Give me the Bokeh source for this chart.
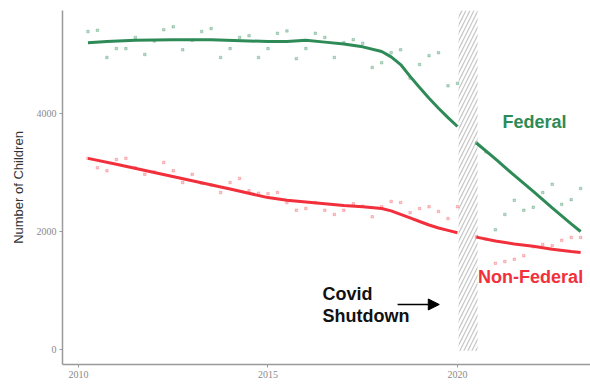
from bokeh.plotting import figure
from bokeh.models import FixedTicker, Arrow, NormalHead, Label
from bokeh.embed import file_html
from bokeh.resources import INLINE

GREEN = "#2E8B57"
RED = "#F2303C"

# quarterly observations
t_pre = [2010.25, 2010.5, 2010.75, 2011.0, 2011.25, 2011.5, 2011.75, 2012.0,
         2012.25, 2012.5, 2012.75, 2013.0, 2013.25, 2013.5, 2013.75, 2014.0,
         2014.25, 2014.5, 2014.75, 2015.0, 2015.25, 2015.5, 2015.75, 2016.0,
         2016.25, 2016.5, 2016.75, 2017.0, 2017.25, 2017.5, 2017.75, 2018.0,
         2018.25, 2018.5, 2018.75, 2019.0, 2019.25, 2019.5, 2019.75, 2020.0]
fed_pre = [5390, 5410, 4950, 5100, 5100, 5290, 5000, 5230,
           5420, 5470, 5080, 5240, 5390, 5440, 4950, 5100,
           5290, 5320, 4950, 5100, 5360, 5400, 4930, 5100,
           5360, 5290, 4950, 5200, 5250, 5190, 4780, 4860,
           5030, 5080, 4600, 4830, 4980, 5030, 4470, 4510]
non_pre = [3240, 3080, 3030, 3220, 3240, 3080, 2970, 3010,
           3170, 3030, 2830, 2970, 2820, 2790, 2660, 2830,
           2900, 2690, 2650, 2640, 2660, 2490, 2360, 2390,
           2490, 2360, 2290, 2360, 2470, 2430, 2250, 2420,
           2510, 2490, 2320, 2390, 2420, 2340, 2220, 2420]

t_post = [2020.5, 2020.75, 2021.0, 2021.25, 2021.5, 2021.75, 2022.0, 2022.25,
          2022.5, 2022.75, 2023.0, 2023.25]
fed_post = [3500, 3350, 2030, 2290, 2530, 2360, 2410, 2660, 2800, 2460, 2540, 2730]
non_post = [1910, 1870, 1460, 1490, 1530, 1590, 1740, 1780, 1760, 1850, 1900, 1900]

# smoothed trends
ts_fed_pre = [2010.25, 2010.75, 2011.5, 2012.5, 2013.5, 2014.5, 2015.0, 2015.5,
              2016.0, 2016.5, 2017.0, 2017.5, 2018.0, 2018.25, 2018.5, 2018.75,
              2019.0, 2019.25, 2019.5, 2019.75, 2020.0]
fed_trend_pre = [5200, 5220, 5240, 5250, 5250, 5230, 5220, 5220,
                 5240, 5210, 5180, 5130, 5050, 4960, 4830, 4630,
                 4440, 4260, 4090, 3930, 3780]
ts_fed_post = [2020.5, 2021.0, 2021.5, 2022.0, 2022.5, 2023.0, 2023.25]
fed_trend_post = [3500, 3230, 2950, 2680, 2400, 2130, 2000]

ts_non_pre = [2010.25, 2011.0, 2012.0, 2013.0, 2014.0, 2015.0, 2015.5, 2016.0,
              2016.5, 2017.0, 2017.5, 2018.0, 2018.25, 2018.5, 2018.75, 2019.0,
              2019.25, 2019.5, 2019.75, 2020.0]
non_trend_pre = [3240, 3140, 3000, 2860, 2720, 2575, 2530, 2500,
                 2470, 2440, 2420, 2390, 2350, 2290, 2230, 2170,
                 2110, 2060, 2020, 1980]
ts_non_post = [2020.5, 2021.0, 2021.5, 2022.0, 2022.5, 2023.0, 2023.25]
non_trend_post = [1905, 1840, 1790, 1750, 1700, 1660, 1645]

covid_start, covid_end = 2020.03, 2020.53
x_ticks = [2010, 2015, 2020]
y_ticks = [0, 2000, 4000]

p = figure(width=590, height=386, output_backend="svg", toolbar_location=None,
           x_range=(2009.578, 2023.51), y_range=(-254, 5746),
           min_border_left=62, min_border_right=0, min_border_top=10, min_border_bottom=22)
p.outline_line_color = None
p.xgrid.visible = False
p.ygrid.visible = False

# covid band
p.quad(left=[covid_start], right=[covid_end], bottom=[-20], top=[5746],
       fill_color=None, line_color=None, hatch_pattern="/", hatch_color="#c4c4c4",
       hatch_scale=8, hatch_weight=1.2)

# points
p.scatter(t_pre, fed_pre, size=2.5, color=GREEN, alpha=0.3, marker="square")
p.scatter(t_post, fed_post, size=2.5, color=GREEN, alpha=0.3, marker="square")
p.scatter(t_pre, non_pre, size=2.5, color=RED, alpha=0.25, marker="square")
p.scatter(t_post, non_post, size=2.5, color=RED, alpha=0.25, marker="square")

# trends
for xs, ys, c in [(ts_fed_pre, fed_trend_pre, GREEN), (ts_fed_post, fed_trend_post, GREEN),
                  (ts_non_pre, non_trend_pre, RED), (ts_non_post, non_trend_post, RED)]:
    p.line(xs, ys, color=c, line_width=3)

# annotations
p.add_layout(Label(x=2022.03, y=3864, text="Federal", text_align="center",
                   text_baseline="middle", text_font="Liberation Sans",
                   text_font_style="bold", text_font_size="18px", text_color=GREEN))
p.add_layout(Label(x=2021.93, y=1237, text="Non-Federal", text_align="center",
                   text_baseline="middle", text_font="Liberation Sans",
                   text_font_style="bold", text_font_size="18px", text_color=RED))
p.add_layout(Label(x=2016.44, y=949, text="Covid", text_align="left",
                   text_baseline="middle", text_font="Liberation Sans",
                   text_font_style="bold", text_font_size="18px", text_color="#111111"))
p.add_layout(Label(x=2016.44, y=576, text="Shutdown", text_align="left",
                   text_baseline="middle", text_font="Liberation Sans",
                   text_font_style="bold", text_font_size="18px", text_color="#111111"))
p.add_layout(Arrow(end=NormalHead(size=11, fill_color="black", line_color="black"),
                   x_start=2018.42, y_start=763, x_end=2019.52, y_end=763,
                   line_color="black", line_width=1.5))

# axes
for ax in (p.xaxis, p.yaxis):
    ax.axis_line_color = "#9a9a9a"
    ax.axis_line_width = 1.5
    ax.major_tick_line_color = "#9a9a9a"
    ax.major_tick_out = 3
    ax.major_tick_in = 0
    ax.minor_tick_line_color = None
    ax.major_label_text_font = "Liberation Serif"
    ax.major_label_text_font_size = "10px"
    ax.major_label_text_color = "#8a8a8a"
    ax.major_label_standoff = 3
p.xaxis.ticker = FixedTicker(ticks=x_ticks)
p.yaxis.ticker = FixedTicker(ticks=y_ticks)
p.yaxis.axis_label = "Number of Children"
p.yaxis.axis_label_text_font = "Liberation Sans"
p.yaxis.axis_label_text_font_style = "normal"
p.yaxis.axis_label_text_font_size = "13px"
p.yaxis.axis_label_text_color = "#333333"
p.yaxis.axis_label_standoff = 8

open("out.html", "w").write(file_html(p, INLINE))
